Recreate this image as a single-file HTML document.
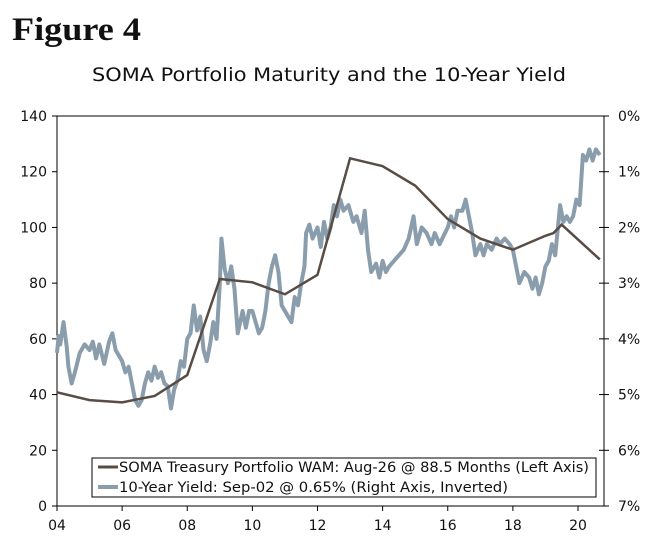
<!DOCTYPE html>
<html><head><meta charset="utf-8"><style>
body{margin:0;background:#fff;width:662px;height:545px;overflow:hidden}
svg text{font-family:"DejaVu Sans","Liberation Sans",sans-serif;fill:#111}
</style></head><body>
<svg id="c" width="662" height="545">
<text x="12" y="40" textLength="129" lengthAdjust="spacingAndGlyphs" style="font-family:'Liberation Serif',serif;font-weight:bold;font-size:33px">Figure 4</text>
<text x="92" y="81" textLength="474" lengthAdjust="spacingAndGlyphs" font-size="19">SOMA Portfolio Maturity and the 10-Year Yield</text>
<g id="axes"></g><g id="series"></g>
<g>
<rect x="92" y="458" width="504" height="39" fill="#fff" stroke="#000" stroke-width="1"/>
<line x1="98" y1="467" x2="118" y2="467" stroke="#584c44" stroke-width="3"/>
<text x="119" y="472" textLength="470" lengthAdjust="spacingAndGlyphs" font-size="14">SOMA Treasury Portfolio WAM: Aug-26 @ 88.5 Months (Left Axis)</text>
<line x1="98" y1="487" x2="118" y2="487" stroke="#8a9dac" stroke-width="4"/>
<text x="119" y="492" textLength="389" lengthAdjust="spacingAndGlyphs" font-size="14">10-Year Yield: Sep-02 @ 0.65% (Right Axis, Inverted)</text>
</g>
</svg>
<script>
const leftTicks=[0,20,40,60,80,100,120,140];
const rightTicks=["0%","1%","2%","3%","4%","5%","6%","7%"];
const xTickYears=[2004,2006,2008,2010,2012,2014,2016,2018,2020];
const xTickLabels=["04","06","08","10","12","14","16","18","20"];
const wamDates=[2004.0,2005.0,2006.0,2007.0,2008.0,2009.0,2010.0,2011.0,2012.0,2013.0,2014.0,2015.0,2016.0,2017.0,2018.0,2019.0,2019.25,2019.5,2020.67];
const wamValues=[40.8,38,37.2,39.5,47,81.5,80.3,76,83,124.8,122,115,103,96,92,97,98,101,88.5];
const yieldDates=[2004.0,2004.05,2004.1,2004.2,2004.3,2004.35,2004.45,2004.55,2004.7,2004.85,2005.0,2005.1,2005.2,2005.3,2005.45,2005.6,2005.7,2005.8,2005.9,2006.0,2006.1,2006.2,2006.3,2006.4,2006.5,2006.6,2006.7,2006.8,2006.9,2007.0,2007.1,2007.2,2007.3,2007.4,2007.5,2007.6,2007.7,2007.8,2007.9,2008.0,2008.1,2008.2,2008.3,2008.4,2008.5,2008.6,2008.7,2008.8,2008.9,2009.0,2009.05,2009.15,2009.25,2009.35,2009.45,2009.55,2009.7,2009.8,2009.9,2010.0,2010.1,2010.2,2010.3,2010.4,2010.5,2010.6,2010.7,2010.8,2010.9,2011.0,2011.1,2011.2,2011.3,2011.4,2011.5,2011.6,2011.65,2011.75,2011.85,2012.0,2012.1,2012.2,2012.3,2012.4,2012.5,2012.6,2012.7,2012.8,2012.95,2013.1,2013.2,2013.35,2013.45,2013.55,2013.65,2013.8,2013.9,2014.0,2014.1,2014.2,2014.35,2014.5,2014.65,2014.8,2014.95,2015.05,2015.2,2015.35,2015.5,2015.6,2015.75,2016.0,2016.1,2016.2,2016.3,2016.45,2016.55,2016.65,2016.75,2016.85,2017.0,2017.1,2017.2,2017.35,2017.5,2017.6,2017.75,2017.9,2018.0,2018.1,2018.2,2018.35,2018.5,2018.6,2018.7,2018.8,2018.9,2019.0,2019.1,2019.2,2019.3,2019.45,2019.55,2019.65,2019.75,2019.85,2019.95,2020.05,2020.15,2020.25,2020.35,2020.45,2020.55,2020.67];
const yieldValues=[4.25,3.95,4.1,3.7,4.15,4.5,4.8,4.6,4.25,4.1,4.2,4.05,4.35,4.1,4.45,4.05,3.9,4.2,4.3,4.4,4.6,4.5,4.8,5.1,5.2,5.1,4.8,4.6,4.75,4.5,4.7,4.6,4.8,4.85,5.25,4.9,4.75,4.4,4.5,4.0,3.9,3.4,3.85,3.6,4.2,4.4,4.1,3.7,4.0,3.0,2.2,2.75,3.0,2.7,3.1,3.9,3.5,3.8,3.5,3.5,3.7,3.9,3.8,3.5,3.0,2.7,2.5,2.8,3.4,3.5,3.6,3.7,3.25,3.4,3.0,2.7,2.1,1.95,2.2,2.0,2.35,1.9,2.2,2.0,1.6,1.8,1.5,1.7,1.6,1.9,1.8,2.1,1.7,2.4,2.8,2.65,2.9,2.6,2.8,2.7,2.6,2.5,2.4,2.2,1.8,2.3,2.0,2.1,2.3,2.1,2.3,2.0,1.8,2.0,1.7,1.7,1.5,1.8,2.1,2.5,2.3,2.5,2.3,2.4,2.2,2.3,2.2,2.3,2.4,2.7,3.0,2.8,2.9,3.1,2.9,3.2,3.0,2.7,2.6,2.3,2.5,1.6,1.9,1.8,1.9,1.8,1.5,1.6,0.7,0.8,0.6,0.8,0.6,0.7];

const L=57,R=604,T=116,B=506;
const xS=y=>L+(y-2004)*(578-L)/16;
const yL=v=>B-(v/140)*(B-T);
const yR=p=>T+(p/7)*(B-T);
const NS="http://www.w3.org/2000/svg";
function mk(tag,attrs,parent){const e=document.createElementNS(NS,tag);for(const k in attrs)e.setAttribute(k,attrs[k]);parent.appendChild(e);return e;}
const ax=document.getElementById('axes');
const frame=mk('rect',{x:L,y:T,width:R-L,height:B-T,fill:'none',stroke:'#000','stroke-width':1},ax);


leftTicks.forEach(v=>{
  mk('line',{x1:L-5,x2:L,y1:yL(v),y2:yL(v),stroke:'#000'},ax);
  const t=mk('text',{x:L-10,y:yL(v)+5,'text-anchor':'end','font-size':14},ax);t.textContent=v;
  
  
});
rightTicks.forEach((s,i)=>{
  mk('line',{x1:R-5,x2:R+5,y1:yR(i),y2:yR(i),stroke:'#000'},ax);
  const t=mk('text',{x:R+14,y:yR(i)+5,'font-size':14},ax);t.textContent=s;
  
  
});
xTickYears.forEach((y,i)=>{
  mk('line',{x1:xS(y),x2:xS(y),y1:B,y2:B+5,stroke:'#000'},ax);
  const t=mk('text',{x:xS(y),y:B+24,'text-anchor':'middle','font-size':14},ax);t.textContent=xTickLabels[i];
  
  
});
const sg=document.getElementById('series');
const yp=mk('polyline',{points:yieldDates.map((d,i)=>xS(d)+','+yR(yieldValues[i])).join(' '),fill:'none',stroke:'#8a9dac','stroke-width':4,'stroke-linejoin':'round'},sg);


const wp=mk('polyline',{points:wamDates.map((d,i)=>xS(d)+','+yL(wamValues[i])).join(' '),fill:'none',stroke:'#584c44','stroke-width':2.5},sg);


</script>
</body></html>
